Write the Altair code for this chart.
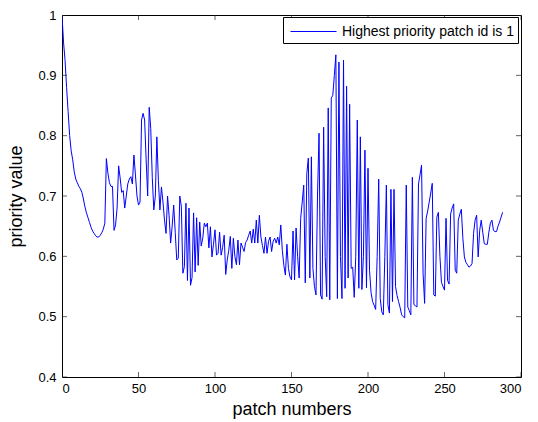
import altair as alt
import pandas as pd

# priority values (patch index starting at 0)
priority = [
    1.000, 0.955, 0.925, 0.880, 0.840, 0.800, 0.775, 0.760, 0.740, 0.728,
    0.722, 0.716, 0.712, 0.706, 0.695, 0.682, 0.672, 0.664, 0.656, 0.648,
    0.642, 0.638, 0.634, 0.632, 0.632, 0.635, 0.639, 0.645, 0.655, 0.762,
    0.738, 0.722, 0.716, 0.716, 0.643, 0.652, 0.680, 0.750, 0.730, 0.706,
    0.709, 0.680, 0.700, 0.720, 0.728, 0.732, 0.720, 0.768, 0.735, 0.700,
    0.685, 0.690, 0.826, 0.837, 0.826, 0.760, 0.700, 0.847, 0.812, 0.731,
    0.677, 0.700, 0.798, 0.726, 0.677, 0.715, 0.690, 0.660, 0.638, 0.700,
    0.667, 0.622, 0.650, 0.685, 0.640, 0.594, 0.597, 0.700, 0.683, 0.572,
    0.583, 0.688, 0.560, 0.680, 0.552, 0.565, 0.672, 0.574, 0.664, 0.585,
    0.657, 0.617, 0.630, 0.655, 0.649, 0.655, 0.614, 0.649, 0.599, 0.620,
    0.644, 0.602, 0.605, 0.640, 0.602, 0.615, 0.635, 0.570, 0.594, 0.610,
    0.633, 0.580, 0.630, 0.600, 0.586, 0.627, 0.586, 0.622, 0.615, 0.608,
    0.623, 0.627, 0.635, 0.642, 0.622, 0.645, 0.622, 0.660, 0.622, 0.668,
    0.632, 0.618, 0.605, 0.632, 0.605, 0.625, 0.632, 0.608, 0.625, 0.630,
    0.622, 0.632, 0.619, 0.652, 0.610, 0.585, 0.569, 0.620, 0.580, 0.566,
    0.561, 0.642, 0.561, 0.647, 0.600, 0.564, 0.663, 0.690, 0.718, 0.556,
    0.737, 0.763, 0.564, 0.765, 0.580, 0.550, 0.536, 0.700, 0.804, 0.536,
    0.529, 0.814, 0.600, 0.533, 0.846, 0.528, 0.862, 0.867, 0.900, 0.934,
    0.530, 0.922, 0.600, 0.530, 0.925, 0.547, 0.882, 0.564, 0.852, 0.580,
    0.582, 0.532, 0.600, 0.826, 0.547, 0.798, 0.545, 0.600, 0.776, 0.548,
    0.746, 0.577, 0.540, 0.525, 0.519, 0.512, 0.600, 0.728, 0.530, 0.508,
    0.503, 0.600, 0.718, 0.520, 0.506, 0.711, 0.525, 0.711, 0.550, 0.535,
    0.525, 0.515, 0.503, 0.500, 0.498, 0.718, 0.516, 0.510, 0.503, 0.731,
    0.520, 0.518, 0.516, 0.720, 0.735, 0.751, 0.572, 0.522, 0.663, 0.675,
    0.690, 0.705, 0.721, 0.536, 0.534, 0.665, 0.673, 0.600, 0.557, 0.550,
    0.544, 0.663, 0.560, 0.554, 0.670, 0.680, 0.687, 0.577, 0.572, 0.660,
    0.670, 0.678, 0.630, 0.599, 0.590, 0.586, 0.582, 0.584, 0.588, 0.638,
    0.660, 0.668, 0.599, 0.643, 0.660, 0.640, 0.621, 0.620, 0.620, 0.640,
    0.655, 0.660, 0.643, 0.641, 0.641, 0.650, 0.657, 0.665, 0.673,
]
patch = list(range(len(priority)))
series_name = ["Highest priority patch id is 1"]

x_ticks = [0, 50, 100, 150, 200, 250, 300]
y_ticks = [0.4, 0.5, 0.6, 0.7, 0.8, 0.9, 1.0]

W, H = 459, 362
FONT = "Liberation Sans"

df = pd.DataFrame({"patch": patch, "priority": priority,
                   "series": series_name * len(priority)})

xs = alt.Scale(domain=[0, 300], nice=False)
ys = alt.Scale(domain=[0.4, 1.0], nice=False)

line = alt.Chart(df).mark_line(color="#0000ff", strokeWidth=1, clip=True).encode(
    x=alt.X("patch:Q", scale=xs,
            axis=alt.Axis(values=x_ticks, title="patch numbers", grid=False,
                          ticks=False, labelPadding=5, domain=False,
                          titlePadding=5)),
    y=alt.Y("priority:Q", scale=ys,
            axis=alt.Axis(values=y_ticks, title="priority value", grid=False,
                          format=".1~f", ticks=False, labelPadding=6,
                          domain=False, titlePadding=12)),
    color=alt.Color("series:N",
                    scale=alt.Scale(domain=series_name, range=["#0000ff"]),
                    legend=alt.Legend(title=None, orient="none",
                                      legendX=221, legendY=2,
                                      symbolType="M-2.3,0L2.3,0",
                                      symbolSize=400,
                                      symbolStrokeWidth=1,
                                      symbolOffset=16,
                                      labelOffset=18,
                                      labelFontSize=14,
                                      labelFont=FONT, labelColor="black",
                                      padding=4,
                                      strokeColor="black", fillColor="white",
                                      labelLimit=400)),
)

xt = pd.DataFrame({"v": x_ticks})
yt = pd.DataFrame({"v": y_ticks})
tick_color = "#222222"

xb = alt.Chart(xt).mark_tick(color=tick_color, size=10, thickness=1,
                             orient="vertical", clip=True).encode(
    x=alt.X("v:Q", scale=xs), y=alt.value(H))
xtop = alt.Chart(xt).mark_tick(color=tick_color, size=10, thickness=1,
                               orient="vertical", clip=True).encode(
    x=alt.X("v:Q", scale=xs), y=alt.value(0))
yl = alt.Chart(yt).mark_tick(color=tick_color, size=10, thickness=1,
                             orient="horizontal", clip=True).encode(
    y=alt.Y("v:Q", scale=ys), x=alt.value(0))
yr = alt.Chart(yt).mark_tick(color=tick_color, size=10, thickness=1,
                             orient="horizontal", clip=True).encode(
    y=alt.Y("v:Q", scale=ys), x=alt.value(W))

chart = alt.layer(line, xb, xtop, yl, yr).properties(
    width=W, height=H,
    background="white",
    autosize=alt.AutoSizeParams(type="none"),
    padding={"left": 62, "top": 15, "right": 17, "bottom": 45},
).configure_view(stroke="black", strokeWidth=1).configure_axis(
    labelFont=FONT, labelFontSize=13, labelColor="black",
    titleFont=FONT, titleFontSize=18, titleFontWeight="normal", titleColor="black",
)

chart.save("out.html", embed_options={"renderer": "svg", "actions": False})
